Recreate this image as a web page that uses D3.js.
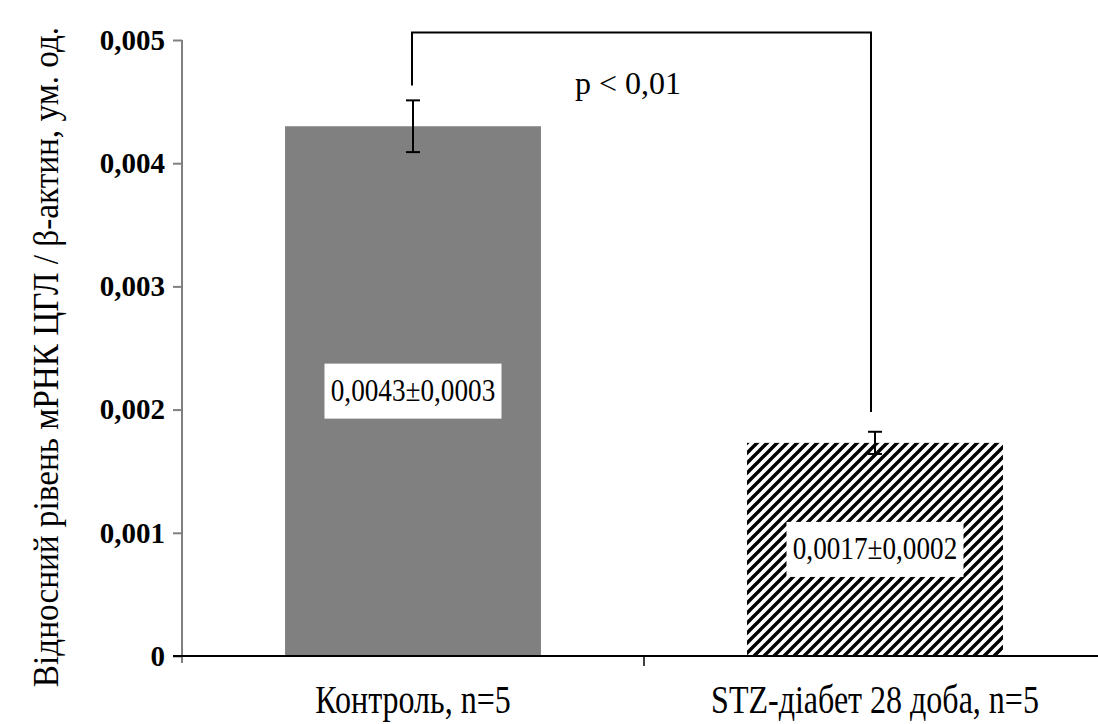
<!DOCTYPE html>
<html>
<head>
<meta charset="utf-8">
<script src="https://cdn.jsdelivr.net/npm/d3@7"></script>
<style>
  html, body { margin: 0; padding: 0; background: #fff; }
  svg { display: block; }
</style>
</head>
<body>
<svg id="chart" width="1098" height="724"></svg>
<script>
// ---- data ----
const categories = ["Контроль, n=5", "STZ-діабет 28 доба, n=5"];
const means = [0.0043, 0.00173];
const errors = [0.00021, 0.00009];
const valueLabels = ["0,0043±0,0003", "0,0017±0,0002"];
const yTicks = [0, 0.001, 0.002, 0.003, 0.004, 0.005];
const yTickLabels = ["0", "0,001", "0,002", "0,003", "0,004", "0,005"];
const bracketValues = [0.00463, 0.00506, 0.00198]; // left end, top, right end
const pLabel = "p < 0,01";
const yTitle = "Відносний рівень мРНК ЦГЛ / β-актин, ум. од.";

const svg = d3.select("#chart");
const plotLeft = 182, plotRight = 1106, plotTop = 40, plotBottom = 656;
const serif = "'Liberation Serif', 'Times New Roman', serif";

const x = d3.scaleBand().domain(categories).range([plotLeft, plotRight])
  .paddingInner(0.446).paddingOuter(0.223);
const y = d3.scaleLinear().domain([0, 0.005]).range([plotBottom, plotTop]);

// hatch pattern
const defs = svg.append("defs");
const pat = defs.append("pattern").attr("id", "hatch")
  .attr("patternUnits", "userSpaceOnUse").attr("width", 10).attr("height", 10);
pat.append("rect").attr("width", 10).attr("height", 10).attr("fill", "#fff");
pat.append("path").attr("d", "M-2,12 L12,-2 M-7,7 L7,-7 M3,17 L17,3")
  .attr("stroke", "#000").attr("stroke-width", 3.4);

const fills = ["#808080", "url(#hatch)"];

// bars
svg.selectAll("rect.bar").data(categories).join("rect")
  .attr("class", "bar")
  .attr("x", d => x(d))
  .attr("width", x.bandwidth())
  .attr("y", (d, i) => y(means[i]))
  .attr("height", (d, i) => y(0) - y(means[i]))
  .attr("fill", (d, i) => fills[i]);

// y axis (gray)
const yAxis = d3.axisLeft(y).tickValues(yTicks).tickSize(9)
  .tickFormat((d, i) => yTickLabels[i]);
const ya = svg.append("g").attr("transform", `translate(${plotLeft},0)`).call(yAxis);
ya.select(".domain").remove();
ya.append("line").attr("x1", 0).attr("x2", 0).attr("y1", plotTop).attr("y2", plotBottom + 7)
  .attr("stroke", "#808080").attr("stroke-width", 2);
ya.selectAll(".tick line").attr("stroke", "#808080").attr("stroke-width", 2);
ya.selectAll(".tick text")
  .attr("x", -17)
  .attr("font-family", serif)
  .attr("font-weight", "bold").attr("font-size", 29).attr("fill", "#000");

// x axis line
svg.append("line").attr("x1", plotLeft - 9).attr("x2", 1098)
  .attr("y1", y(0)).attr("y2", y(0)).attr("stroke", "#000").attr("stroke-width", 2);
// category separator ticks
const step = x.step();
[plotLeft + step].forEach(v => {
  svg.append("line").attr("x1", v).attr("x2", v).attr("y1", y(0)).attr("y2", y(0) + 10)
    .attr("stroke", "#000").attr("stroke-width", 1.5);
});

// x labels (condensed serif)
svg.selectAll("text.xl").data(categories).join("text")
  .attr("class", "xl")
  .attr("transform", d => `translate(${x(d) + x.bandwidth() / 2},713) scale(0.8,1)`)
  .attr("text-anchor", "middle")
  .attr("font-family", serif)
  .attr("font-size", 40)
  .text(d => d);

// error bars
const eb = svg.selectAll("g.eb").data(categories).join("g").attr("class", "eb");
eb.each(function (d, i) {
  const g = d3.select(this);
  const cx = x(d) + x.bandwidth() / 2;
  const y1 = y(means[i] + errors[i]), y2 = y(means[i] - errors[i]);
  g.append("line").attr("x1", cx).attr("x2", cx).attr("y1", y1).attr("y2", y2)
    .attr("stroke", "#000").attr("stroke-width", 2);
  [y1, y2].forEach(yy => g.append("line").attr("x1", cx - 7).attr("x2", cx + 7)
    .attr("y1", yy).attr("y2", yy).attr("stroke", "#000").attr("stroke-width", 2));
});

// value label boxes
categories.forEach((d, i) => {
  const cx = x(d) + x.bandwidth() / 2;
  const cy = y(means[i] / 2);
  svg.append("rect").attr("x", cx - 88.5).attr("y", cy - 27.5)
    .attr("width", 177).attr("height", 55).attr("fill", "#fff");
  svg.append("text")
    .attr("transform", `translate(${cx},${cy + 10}) scale(0.85,1)`)
    .attr("text-anchor", "middle")
    .attr("font-family", serif)
    .attr("font-size", 32)
    .text(valueLabels[i]);
});

// significance bracket
const bx1 = x(categories[0]) + x.bandwidth() / 2 - 1;
const bx2 = x(categories[1]) + x.bandwidth() / 2 - 4;
svg.append("path")
  .attr("d", `M${bx1},${y(bracketValues[0])} L${bx1},${y(bracketValues[1])} L${bx2},${y(bracketValues[1])} L${bx2},${y(bracketValues[2])}`)
  .attr("fill", "none").attr("stroke", "#000").attr("stroke-width", 2);
svg.append("text").attr("x", 575).attr("y", 94)
  .attr("font-family", serif)
  .attr("font-size", 32)
  .text(pLabel);

// y title
svg.append("text")
  .attr("transform", "translate(58,357) rotate(-90) scale(0.95,1)")
  .attr("text-anchor", "middle")
  .attr("font-family", serif)
  .attr("font-size", 35)
  .text(yTitle);
</script>
</body>
</html>
